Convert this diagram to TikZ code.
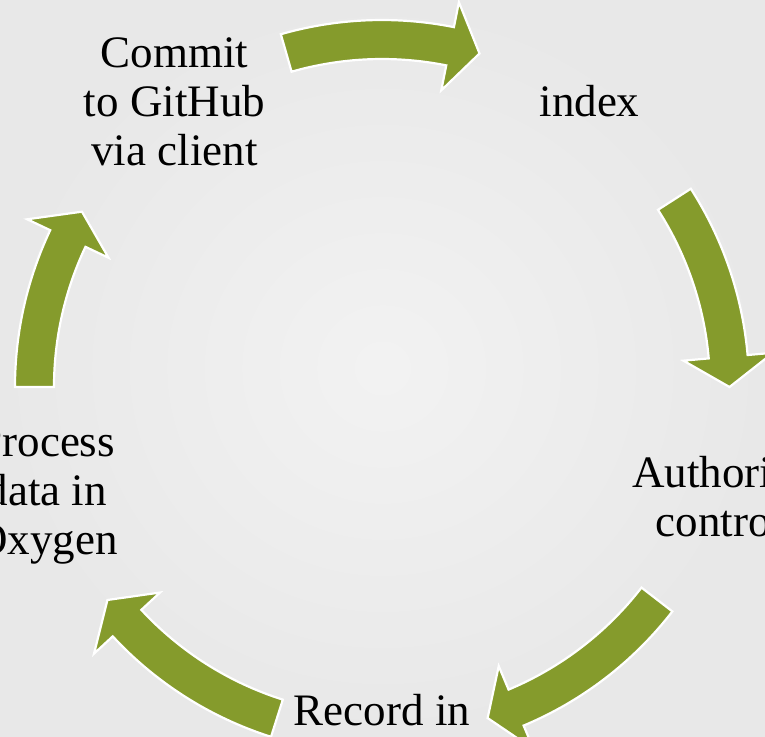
\documentclass[tikz,border=0pt]{standalone}
\usepackage{fontspec}
\setmainfont{Liberation Serif}
\usepackage{xcolor}
\definecolor{leafgreen}{RGB}{133,155,44}

\begin{document}
\begin{tikzpicture}[x=0.5pt, y=0.5pt,
        cyclearrow/.style={fill=leafgreen, draw=white, line width=1.1pt},
        steplabel/.style={align=center, inner sep=0pt, font=\fontsize{22.5}{24.5}\selectfont}]
        \useasboundingbox (-382,-349) rectangle (383,387);
        \clip (-382,-349) rectangle (383,387);
        \shade[inner color=black!5, outer color=black!9] (-382,-349) rectangle (383,387);

        % arrows round the circle, start angle / tip angle
        \foreach \a/\b in {106/73.7, 32.7/0, -37.7/-72.3, -107.6/-142.2, 180/149.7} {
            \filldraw[cyclearrow] (\a:367) arc[start angle=\a, end angle=\b+5, radius=367]
                -- ({\b+5}:392.5) -- (\b:347.5) -- ({\b+5}:302.5) -- ({\b+5}:328)
                arc[start angle=\b+5, end angle=\a, radius=328] -- cycle;
        }

        \node[steplabel] (index) at (54:353) {index};
        \node[steplabel] (authority) at (-18:355) {Authority\\control};
        \node[steplabel] (record) at (-90:323) {Record in};
        \node[steplabel] (process) at (198:353) {Process\\data in\\Oxygen};
        \node[steplabel] (commit) at (126:353) {Commit\\to GitHub\\via client};
    \end{tikzpicture}
\end{document}
